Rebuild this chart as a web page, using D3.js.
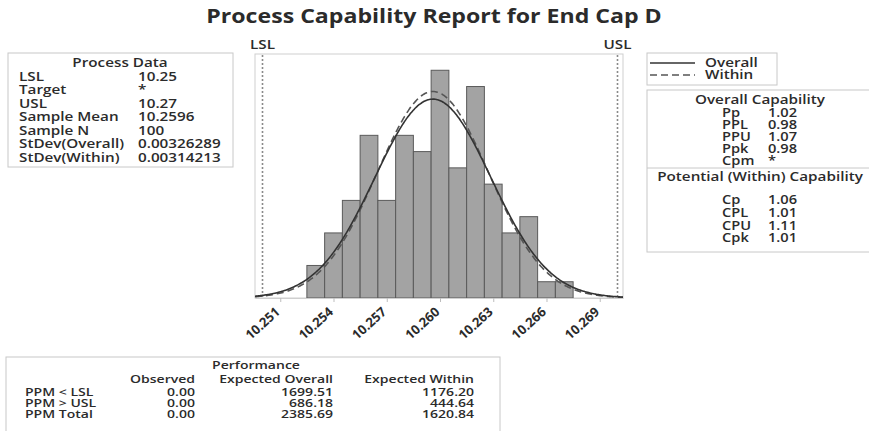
<!DOCTYPE html>
<html>
<head>
<meta charset="utf-8">
<script src="https://cdn.jsdelivr.net/npm/d3@7"></script>
<style>
  html, body { margin: 0; padding: 0; background: #ffffff; }
  svg { display: block; }
  text { font-family: "Open Sans", "Noto Sans", sans-serif; fill: #2b2b2b; }
</style>
</head>
<body>
<svg id="chart" width="869" height="431"></svg>
<script>
// ---- data ----
const binLower = [10.2525, 10.2535, 10.2545, 10.2555, 10.2565, 10.2575, 10.2585, 10.2595,
                  10.2605, 10.2615, 10.2625, 10.2635, 10.2645, 10.2655, 10.2665];
const binWidth = 0.001;
const counts = [2, 4, 6, 10, 6, 10, 9, 14, 8, 13, 7, 4, 5, 1, 1];
const tickValues = [10.251, 10.254, 10.257, 10.260, 10.263, 10.266, 10.269];
const LSL = 10.25, USL = 10.27;
const sampleMean = 10.2596, sampleN = 100;
const sdOverall = 0.00326289, sdWithin = 0.00314213;

const processLabels = ["LSL", "Target", "USL", "Sample Mean", "Sample N", "StDev(Overall)", "StDev(Within)"];
const processValues = ["10.25", "*", "10.27", "10.2596", "100", "0.00326289", "0.00314213"];

const overallLabels = ["Pp", "PPL", "PPU", "Ppk", "Cpm"];
const overallValues = ["1.02", "0.98", "1.07", "0.98", "*"];
const withinLabels = ["Cp", "CPL", "CPU", "Cpk"];
const withinValues = ["1.06", "1.01", "1.11", "1.01"];

const perfHeaders = ["Observed", "Expected Overall", "Expected Within"];
const perfRows = ["PPM < LSL", "PPM > USL", "PPM Total"];
const perfObserved = ["0.00", "0.00", "0.00"];
const perfExpOverall = ["1699.51", "686.18", "2385.69"];
const perfExpWithin = ["1176.20", "444.64", "1620.84"];

// ---- layout ----
const svg = d3.select("#chart");
const plot = { left: 255, right: 623, top: 54, bottom: 298 };
const textCol = "#2b2b2b";
const boxCol = "#c8c8c8";
const SX = 1.22; // wide text face

// text with a horizontal widening, anchored at (x, y)
function label(g, x, y, str, size, opts = {}) {
  return g.append("text")
    .attr("transform", `translate(${x},${y}) scale(${opts.sx || SX},1)`)
    .attr("text-anchor", opts.anchor || "start")
    .style("font-size", size + "px")
    .style("font-weight", opts.weight || 600)
    .text(str);
}

const x = d3.scaleLinear()
  .domain([10.249577, 10.270310])
  .range([plot.left, plot.right]);
const y = d3.scaleLinear()
  .domain([0, 15])
  .range([plot.bottom, plot.top]);

// title
label(svg, 434, 23, "Process Capability Report for End Cap D", 19.6, { anchor: "middle", weight: 700, sx: 1.18 });

// plot frame
svg.append("rect")
  .attr("x", plot.left).attr("y", plot.top)
  .attr("width", plot.right - plot.left).attr("height", plot.bottom - plot.top)
  .attr("fill", "none").attr("stroke", "#cfcfcf").attr("stroke-width", 1);

// histogram bars
svg.append("g").selectAll("rect")
  .data(counts.map((c, i) => ({ lo: binLower[i], c })))
  .join("rect")
  .attr("x", d => x(d.lo))
  .attr("y", d => y(d.c))
  .attr("width", d => x(d.lo + binWidth) - x(d.lo))
  .attr("height", d => y(0) - y(d.c))
  .attr("fill", "#a3a3a3")
  .attr("stroke", "#5a5a5a")
  .attr("stroke-width", 1);

// spec limit lines
[[LSL, "LSL"], [USL, "USL"]].forEach(([v, name]) => {
  svg.append("line")
    .attr("x1", x(v)).attr("x2", x(v))
    .attr("y1", plot.top + 1).attr("y2", plot.bottom)
    .attr("stroke", "#8a8a8a").attr("stroke-width", 1.6)
    .attr("stroke-dasharray", "2,2");
  label(svg, x(v), 49, name, 12.5, { anchor: "middle" });
});

// fitted normal curves, scaled to counts per bin
const normal = (v, mu, sd) => Math.exp(-0.5 * ((v - mu) / sd) ** 2) / (sd * Math.sqrt(2 * Math.PI));
const xs = d3.range(0, 301).map(i => x.domain()[0] + (x.domain()[1] - x.domain()[0]) * i / 300);
const curve = d3.line().x(d => x(d[0])).y(d => y(d[1])).curve(d3.curveBasis);
const scaleK = sampleN * binWidth;

svg.append("path")
  .datum(xs.map(v => [v, scaleK * normal(v, sampleMean, sdWithin)]))
  .attr("d", curve).attr("fill", "none")
  .attr("stroke", "#555").attr("stroke-width", 1.6)
  .attr("stroke-dasharray", "7,4");
svg.append("path")
  .datum(xs.map(v => [v, scaleK * normal(v, sampleMean, sdOverall)]))
  .attr("d", curve).attr("fill", "none")
  .attr("stroke", "#333").attr("stroke-width", 1.6);

// x axis
const axis = svg.append("g")
  .attr("transform", `translate(0,${plot.bottom})`)
  .call(d3.axisBottom(x).tickValues(tickValues).tickFormat(d3.format(".3f")).tickSizeInner(4).tickSizeOuter(0));
axis.select(".domain").attr("stroke", "#cfcfcf");
axis.selectAll(".tick line").attr("stroke", "#bdbdbd");
axis.selectAll(".tick text")
  .attr("fill", textCol)
  .attr("x", 0).attr("y", 0).attr("dy", null)
  .style("font-size", "13px").style("font-weight", 700)
  .style("font-family", "\"Open Sans\", sans-serif")
  .attr("text-anchor", "end")
  .attr("transform", "translate(0,15) rotate(-42)");

// ---- Process Data box ----
const pd = svg.append("g");
pd.append("rect").attr("x", 8).attr("y", 53).attr("width", 225).attr("height", 114)
  .attr("fill", "none").attr("stroke", boxCol);
label(pd, 120, 67, "Process Data", 12.5, { anchor: "middle" });
processLabels.forEach((l, i) => {
  label(pd, 19, 80.5 + i * 13.5, l, 12.5);
  label(pd, 138, 80.5 + i * 13.5, processValues[i], 12.5);
});

// ---- legend ----
const lg = svg.append("g");
lg.append("rect").attr("x", 647).attr("y", 53).attr("width", 130).attr("height", 32)
  .attr("fill", "none").attr("stroke", boxCol);
lg.append("line").attr("x1", 650).attr("x2", 695).attr("y1", 63).attr("y2", 63)
  .attr("stroke", "#333").attr("stroke-width", 1.6);
lg.append("line").attr("x1", 650).attr("x2", 695).attr("y1", 75).attr("y2", 75)
  .attr("stroke", "#555").attr("stroke-width", 1.6).attr("stroke-dasharray", "7,4");
label(lg, 705, 67, "Overall", 12.5);
label(lg, 705, 79, "Within", 12.5);

// ---- capability box ----
const cb = svg.append("g");
cb.append("rect").attr("x", 647).attr("y", 90).attr("width", 225).attr("height", 162)
  .attr("fill", "none").attr("stroke", boxCol);
cb.append("line").attr("x1", 647).attr("x2", 869).attr("y1", 168).attr("y2", 168).attr("stroke", boxCol);
label(cb, 760, 104, "Overall Capability", 12.5, { anchor: "middle" });
overallLabels.forEach((l, i) => {
  label(cb, 722, 116.5 + i * 12.2, l, 12);
  label(cb, 768, 116.5 + i * 12.2, overallValues[i], 12);
});
label(cb, 760, 181, "Potential (Within) Capability", 12.5, { anchor: "middle" });
withinLabels.forEach((l, i) => {
  label(cb, 722, 204 + i * 12.8, l, 12);
  label(cb, 768, 204 + i * 12.8, withinValues[i], 12);
});

// ---- performance table ----
const pf = svg.append("g");
pf.append("rect").attr("x", 6).attr("y", 357).attr("width", 494).attr("height", 80)
  .attr("fill", "none").attr("stroke", boxCol);
label(pf, 256, 369, "Performance", 11.5, { anchor: "middle" });
const colRight = [195, 333, 474];
perfHeaders.forEach((h, j) => {
  label(pf, colRight[j], 383, h, 11.5, { anchor: "end" });
});
const perfCols = [perfObserved, perfExpOverall, perfExpWithin];
perfRows.forEach((r, i) => {
  const yy = 395.5 + i * 11.2;
  label(pf, 25, yy, r, 11.5);
  perfCols.forEach((col, j) => {
    label(pf, colRight[j], yy, col[i], 11.5, { anchor: "end" });
  });
});
</script>
</body>
</html>
